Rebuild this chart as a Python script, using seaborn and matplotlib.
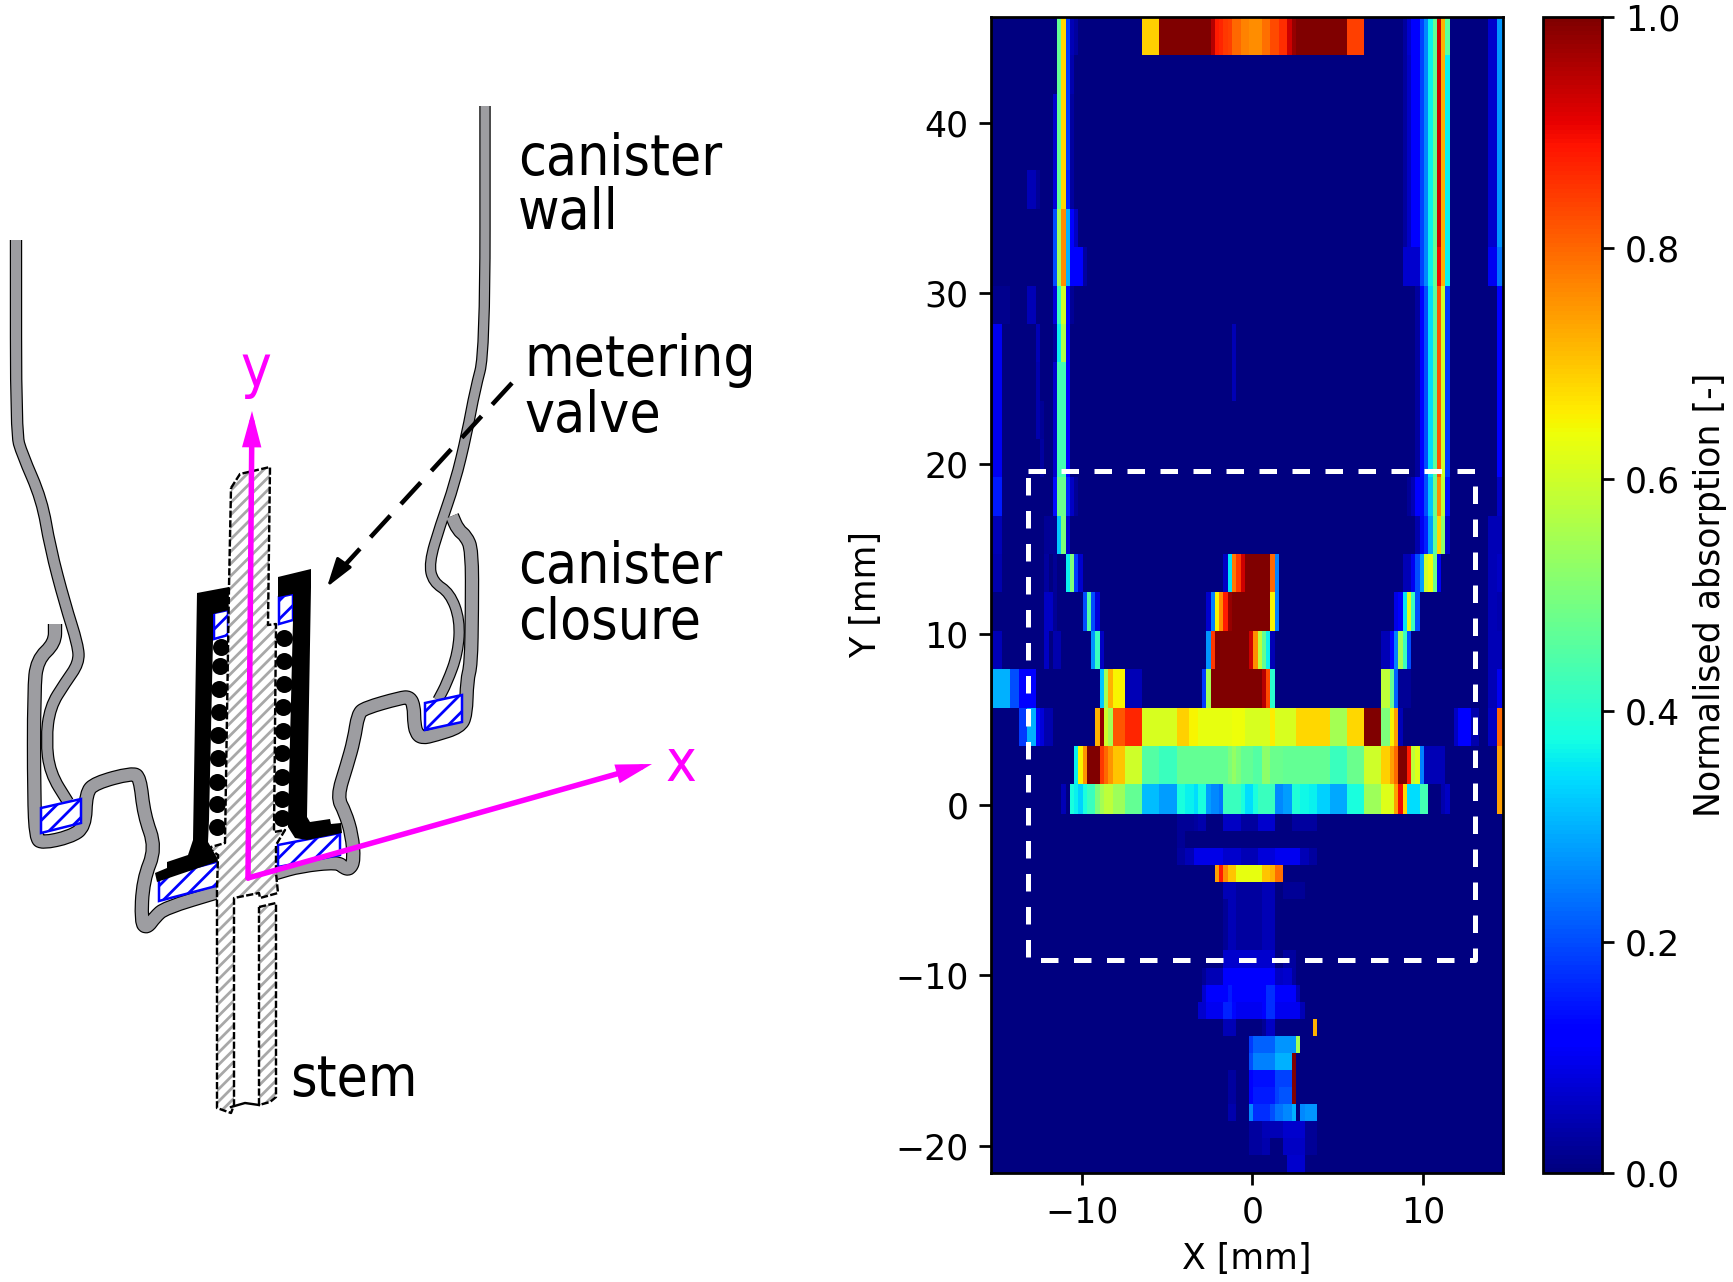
import numpy as np
import matplotlib
matplotlib.use('Agg')
import matplotlib.pyplot as plt
from matplotlib.path import Path
from matplotlib.patches import PathPatch
import seaborn as sns

W, H, DPI = 1733, 1282, 220

# ------------------------------------------------------------
# Heatmap data: cells are 0.25 mm, each band is (col_from, col_to, value)
# ------------------------------------------------------------
x_first_edge = -15.45
y_first_edge = 46.2
n_cols = 122
n_rows = 272
cbar_ticks = [0.0, 0.2, 0.4, 0.6, 0.8, 1.0]
x_ticks = [-10, 0, 10]
y_ticks = [40, 30, 20, 10, 0, -10, -20]
dash_box_x = [-13.15, 13.05, 13.05, -13.15, -13.15]
dash_box_y = [19.6, 19.6, -9.1, -9.1, 19.6]

band_edges = [46.2, 43.95, 41.7, 37.2, 34.95, 32.7, 30.45, 28.2, 25.95, 23.7, 21.45, 19.2,
              16.95, 14.7, 12.45, 10.2, 7.95, 5.7, 3.45, 1.2, -0.55, -1.55, -2.55, -3.55,
              -4.55, -5.55, -8.55, -9.55, -10.55, -11.55, -12.55, -13.55, -14.55, -15.55,
              -16.55, -17.55, -18.55, -19.55, -20.55, -21.8]

right_wall_a = [(97, 98, .03), (98, 99, .06), (99, 101, .11), (101, 102, .19), (102, 103, .26), (103, 104, .36),
                (104, 105, .47), (105, 106, .93), (106, 107, .72), (107, 108, .36),
                (117, 119, .07), (119, 121, .27)]
right_wall_b = [(100, 101, .03), (101, 102, .12), (102, 103, .2), (103, 104, .34), (104, 105, .46),
                (105, 106, .82), (106, 107, .6), (107, 108, .18), (119, 121, .11)]

band_01 = [(16, 17, .47), (17, 18, .68), (18, 19, .18), (19, 20, .05), (20, 21, .03),
           (36, 40, .69), (40, 52, 1.0), (52, 53, .95), (53, 54, .88), (54, 55, .87), (55, 56, .85),
           (56, 57, .84), (57, 59, .8), (59, 61, .77), (61, 64, .76), (64, 66, .79), (66, 68, .83),
           (68, 70, .86), (70, 71, .93), (71, 72, .98), (72, 84, 1.0), (84, 88, .84),
           (97, 98, .03), (98, 99, .07), (99, 101, .11), (101, 102, .19), (102, 103, .26),
           (103, 104, .36), (104, 105, .47), (105, 106, .93), (106, 107, .72), (107, 108, .46),
           (117, 119, .07), (119, 121, .27)]
band_02 = [(16, 17, .47), (17, 18, .68), (18, 19, .18), (19, 20, .04)] + right_wall_a
band_03 = [(15, 16, .07), (16, 17, .47), (17, 18, .68), (18, 19, .18), (19, 20, .03)] + right_wall_a
band_04 = [(9, 11, .05), (11, 12, .02), (15, 16, .08), (16, 17, .47), (17, 18, .68), (18, 19, .16),
           (19, 20, .03)] + right_wall_a
band_05 = [(15, 16, .2), (16, 17, .55), (17, 18, .76), (18, 19, .3), (19, 20, .12), (20, 21, .06)] + right_wall_a
band_06 = [(15, 16, .2), (16, 17, .55), (17, 18, .76), (18, 19, .3), (19, 22, .11), (22, 23, .03),
           (97, 101, .07), (101, 102, .19), (102, 103, .26), (103, 104, .36), (104, 105, .47),
           (105, 106, .9), (106, 107, .72), (107, 108, .36), (117, 119, .1), (119, 121, .24)]
band_07 = [(1, 5, .015), (9, 11, .05), (15, 16, .08), (16, 17, .42), (17, 18, .6), (18, 19, .13),
           (19, 20, .02)] + right_wall_b
band_08 = [(1, 3, .1), (11, 12, .05), (15, 16, .03), (16, 17, .36), (17, 18, .56), (18, 19, .11),
           (57, 58, .05)] + right_wall_b
band_09 = [(1, 3, .1), (11, 12, .04), (15, 16, .07), (16, 18, .43), (18, 19, .11), (57, 58, .05)] + right_wall_b
band_10 = [(1, 3, .1), (11, 12, .04), (12, 13, .02), (15, 16, .07), (16, 18, .43), (18, 19, .11)] + right_wall_b
band_11 = [(1, 3, .1), (12, 13, .03), (15, 16, .07), (16, 18, .43), (18, 19, .11)] + right_wall_b
band_12 = [(1, 3, .15), (15, 16, .14), (16, 18, .48), (18, 19, .16), (19, 20, .06), (20, 21, .02),
           (98, 99, .02), (99, 100, .05), (100, 101, .11), (101, 102, .12), (102, 103, .2),
           (103, 104, .32), (104, 105, .48), (105, 106, .76), (106, 107, .58), (107, 108, .14),
           (119, 121, .06)]
band_13 = [(1, 3, .05), (13, 16, .02), (16, 17, .32), (17, 18, .5), (18, 19, .07),
           (100, 101, .04), (101, 102, .1), (102, 103, .16), (103, 104, .28), (104, 105, .46),
           (105, 106, .68), (106, 107, .52), (107, 108, .06), (117, 121, .05)]
band_14 = [(1, 3, .04), (13, 14, .03), (15, 16, .02), (18, 19, .36), (19, 20, .5), (20, 21, .18),
           (21, 22, .07), (55, 56, .06), (56, 57, .35), (57, 58, .78), (58, 59, .85), (59, 60, .93),
           (60, 66, 1.0), (66, 67, .8), (67, 68, .25), (97, 99, .05), (99, 100, .1), (100, 101, .2),
           (101, 102, .28), (102, 103, .6), (103, 104, .64), (104, 105, .48), (105, 106, .1),
           (117, 119, .05), (119, 121, .06)]
band_15 = [(13, 15, .06), (15, 16, .02), (22, 23, .2), (23, 24, .45), (24, 25, .2), (25, 26, .08),
           (51, 52, .07), (52, 53, .25), (53, 54, .65), (54, 55, .76), (55, 56, .88), (56, 57, .98),
           (57, 66, 1.0), (66, 67, .65), (67, 68, .25), (95, 96, .09), (96, 97, .12), (97, 98, .35),
           (98, 99, .62), (99, 100, .42), (100, 101, .2), (117, 119, .05), (119, 121, .04)]
band_16 = [(1, 3, .05), (13, 14, .06), (15, 17, .04), (24, 25, .27), (25, 26, .42), (26, 27, .06),
           (51, 52, .27), (52, 53, .85), (53, 61, 1.0), (61, 62, .93), (62, 63, .76), (63, 64, .58),
           (64, 65, .47), (65, 66, .36), (66, 67, .05), (92, 94, .05), (94, 95, .11), (95, 96, .25),
           (96, 97, .55), (97, 98, .42), (98, 99, .2), (117, 121, .05)]
band_17 = [(1, 5, .3), (5, 7, .2), (7, 9, .12), (9, 11, .11), (26, 27, .32), (27, 28, .55), (28, 29, .72),
           (29, 32, .65), (32, 36, .05), (50, 51, .18), (51, 52, .55), (52, 64, 1.0), (64, 65, .95),
           (65, 66, .83), (66, 67, .4), (92, 94, .58), (94, 95, .47), (95, 96, .22), (96, 99, .02),
           (117, 119, .05), (119, 121, .1)]
band_18 = [(7, 9, .18), (9, 11, .3), (11, 12, .12), (12, 13, .08), (13, 15, .04), (25, 26, .72),
           (26, 27, .98), (27, 28, .6), (28, 29, .55), (29, 32, .82), (32, 36, .87), (36, 44, .61),
           (44, 47, .69), (47, 49, .65), (49, 57, .63), (57, 60, .64), (60, 66, .61), (66, 67, .66),
           (67, 72, .61), (72, 80, .68), (80, 84, .55), (84, 88, .68), (88, 92, 1.0), (92, 94, .5),
           (94, 95, .65), (95, 96, .74), (96, 97, .05), (109, 110, .06), (110, 113, .12),
           (113, 115, .04), (117, 119, .06), (119, 121, .8)]
band_19 = [(20, 21, .36), (21, 22, .65), (22, 23, .75), (23, 26, 1.0), (26, 27, .85), (27, 28, .8),
           (28, 29, .75), (29, 32, .7), (32, 36, .6), (36, 40, .45), (40, 44, .42), (44, 56, .47),
           (56, 57, .5), (57, 58, .53), (58, 59, .5), (59, 62, .47), (62, 64, .45), (64, 66, .52),
           (66, 69, .48), (69, 80, .47), (80, 84, .42), (84, 88, .48), (88, 92, .6), (92, 94, .69),
           (94, 95, .74), (95, 96, .8), (96, 98, 1.0), (98, 99, .88), (99, 100, .58), (100, 101, .62),
           (101, 102, .25), (102, 107, .05), (119, 121, .74)]
band_20 = [(17, 18, .05), (19, 20, .38), (20, 21, .36), (21, 22, .33), (22, 23, .38), (23, 25, .42),
           (25, 26, .5), (26, 27, .55), (27, 29, .58), (29, 32, .54), (32, 36, .47), (36, 40, .31),
           (40, 44, .28), (44, 46, .38), (46, 48, .36), (48, 49, .34), (49, 51, .38), (51, 52, .28),
           (52, 54, .26), (54, 55, .24), (55, 59, .42), (59, 60, .38), (60, 62, .34), (62, 63, .38),
           (63, 67, .42), (67, 69, .26), (69, 71, .28), (71, 73, .39), (73, 75, .37), (75, 77, .36),
           (77, 80, .33), (80, 84, .29), (84, 88, .38), (88, 92, .54), (92, 95, .62), (95, 96, .74),
           (96, 97, .9), (97, 98, .68), (98, 101, .34), (101, 103, .43), (106, 107, .04),
           (107, 108, .06), (119, 121, .74)]
band_21 = [(44, 48, .02), (48, 49, .03), (49, 51, .04), (55, 59, .06), (59, 63, .03), (63, 67, .07),
           (71, 77, .03)]
band_22 = [(44, 46, .02)]
band_23 = [(44, 46, .03), (46, 48, .05), (48, 55, .09), (55, 59, .07), (59, 63, .05), (63, 67, .08),
           (67, 73, .1), (73, 75, .05), (75, 77, .03)]
band_24 = [(53, 54, .74), (54, 55, .88), (55, 56, .76), (56, 58, .7), (58, 64, .63), (64, 66, .7),
           (66, 67, .72), (67, 69, .79)]
band_25 = [(55, 58, .05), (58, 64, .03), (64, 67, .05), (69, 74, .02)]
band_26 = [(55, 56, .02), (56, 58, .05), (58, 64, .03), (64, 67, .05)]
band_27 = [(55, 67, .07), (69, 72, .03)]
band_28 = [(50, 51, .02), (51, 55, .05), (55, 67, .11), (67, 69, .06), (69, 71, .07), (71, 72, .03)]
band_29 = [(50, 51, .07), (51, 56, .11), (56, 57, .15), (57, 65, .11), (65, 67, .17), (67, 72, .11),
           (72, 73, .05)]
band_30 = [(49, 51, .07), (51, 55, .1), (55, 57, .16), (57, 58, .13), (58, 64, .1), (64, 65, .12),
           (65, 67, .17), (67, 73, .1), (73, 74, .05)]
band_31 = [(55, 58, .05), (64, 65, .02), (65, 67, .06), (76, 77, .72)]
band_32 = [(61, 62, .18), (62, 67, .22), (67, 72, .27), (72, 73, .55)]
band_33 = [(61, 62, .2), (62, 67, .25), (67, 71, .3), (71, 72, 1.0)]
band_34 = [(56, 58, .03), (61, 62, .11), (62, 67, .14), (67, 71, .19), (71, 72, 1.0)]
band_35 = [(56, 58, .03), (61, 62, .11), (62, 67, .15), (67, 68, .19), (68, 71, .21), (71, 72, 1.0)]
band_36 = [(56, 58, .04), (61, 62, .26), (62, 66, .17), (66, 67, .2), (67, 69, .24), (69, 71, .26),
           (71, 72, .3), (73, 74, .26), (74, 77, .27)]
band_37 = [(61, 64, .03), (64, 69, .05), (69, 74, .07), (74, 77, .02)]
band_38 = [(61, 64, .03), (64, 66, .04), (69, 74, .06), (74, 77, .02)]
band_39 = [(70, 74, .07)]

bands = [band_01, band_02, band_03, band_04, band_05, band_06, band_07, band_08, band_09, band_10,
         band_11, band_12, band_13, band_14, band_15, band_16, band_17, band_18, band_19, band_20,
         band_21, band_22, band_23, band_24, band_25, band_26, band_27, band_28, band_29, band_30,
         band_31, band_32, band_33, band_34, band_35, band_36, band_37, band_38, band_39]

# ------------------------------------------------------------
# Schematic outlines, in figure pixels
# ------------------------------------------------------------
wall_right = [(485, 106), (485, 352), (475, 390), (467, 433), (455, 483), (440, 526), (429, 563),
              (433, 582), (450, 593), (460, 620), (458, 653), (447, 683), (438, 700)]
wall_left = [(16, 240), (16, 433), (22, 454), (42, 500), (50, 547), (65, 604), (78, 645), (79, 663),
             (65, 683), (50, 707), (46, 740), (50, 773), (68, 802)]
closure_right = [(452, 516), (458, 530), (466, 536), (472, 550), (472, 610), (471, 665), (467, 680),
                 (466, 715), (460, 727), (435, 735), (422, 738), (416, 733), (414, 720), (414, 707),
                 (410, 697), (400, 698), (365, 708), (358, 714), (354, 740), (347, 765), (337, 797),
                 (345, 812), (352, 835), (354, 860), (350, 869), (344, 868), (338, 862), (300, 866),
                 (276, 873)]
closure_left = [(55, 624), (55, 643), (37, 660), (34, 690), (34, 797), (36, 838), (42, 843), (70, 837),
                (85, 827), (86, 793), (95, 783), (132, 773), (140, 777), (144, 815), (156, 848),
                (143, 880), (141, 923), (147, 928), (155, 917), (165, 908), (218, 892)]
hatch_boxes = [[(41, 808), (81, 799), (81, 823), (41, 833)],
               [(425, 703), (462, 695), (462, 722), (425, 730)],
               [(159, 877), (220, 861), (220, 885), (159, 901)],
               [(278, 845), (340, 833), (340, 855), (278, 867)],
               [(214, 613), (228, 610), (228, 635), (214, 639)],
               [(279, 597), (293, 594), (293, 620), (279, 624)]]
housing_left = [(197, 593), (229, 587), (229, 610), (213, 614), (213, 640), (209, 820), (208, 842),
                (219, 861), (157, 882), (155, 873), (167, 868), (167, 862), (188, 855), (193, 840)]
housing_right = [(278, 577), (311, 569), (311, 587), (307, 817), (310, 822), (330, 819), (331, 824),
                 (341, 823), (342, 833), (307, 840), (295, 838), (288, 827), (288, 820), (293, 620),
                 (293, 594), (278, 597)]
spring_left = [(220.7, 647), (220, 666), (219, 689), (219, 712), (218, 735), (218, 758), (217, 782),
               (217, 804), (217, 827)]
spring_right = [(284, 638), (284, 661), (284, 684), (283, 707), (283, 731), (282, 753), (282, 777),
                (282, 799), (282, 818)]
stem_main = [(231, 488), (240, 474), (270, 467), (268, 625), (276, 624), (274, 832), (285, 830),
             (276, 845), (276, 873), (278, 893), (260, 898), (259, 893), (234, 898), (234, 1105),
             (231, 1113), (217, 1108), (217, 890), (218, 855), (211, 850), (211, 847), (225, 843),
             (229, 587)]
stem_tube = [(259, 907), (276, 903), (276, 1097), (270, 1102), (259, 1105)]
stem_bottom = [(231, 1107), (245, 1103), (259, 1105)]

labels = [('canister', 518, 175), ('wall', 518, 229), ('metering', 524, 376), ('valve', 524, 432),
          ('canister', 518, 583), ('closure', 518, 639), ('stem', 290, 1096)]
origin = (248, 878)
y_tip = (252, 411)
x_tip = (652, 764)
leader = [(512, 383), (334, 577)]
leader_tip = (327, 587)

# ------------------------------------------------------------
Z = np.zeros((n_rows, n_cols))
for i, band in enumerate(bands):
    r0 = int(round((y_first_edge - band_edges[i]) * 4))
    r1 = int(round((y_first_edge - band_edges[i + 1]) * 4))
    for c0, c1, v in band:
        Z[r0:r1, c0:c1] = v


def col_pos(x):
    return (np.asarray(x, dtype=float) - x_first_edge) * 4


def row_pos(y):
    return (y_first_edge - np.asarray(y, dtype=float)) * 4


def px(v):
    return v * 72 / DPI


def rounded(points):
    # quadratic corners through the midpoints, so the sheet metal reads as bent
    pts = np.array(points, dtype=float)
    verts = [pts[0], (pts[0] + pts[1]) / 2]
    codes = [Path.MOVETO, Path.LINETO]
    for k in range(1, len(pts) - 1):
        verts += [pts[k], (pts[k] + pts[k + 1]) / 2]
        codes += [Path.CURVE3, Path.CURVE3]
    verts.append(pts[-1])
    codes.append(Path.LINETO)
    return Path(verts, codes)


plt.rcParams['hatch.linewidth'] = 0.9
fig = plt.figure(figsize=(W / DPI, H / DPI), dpi=DPI)

# schematic on the left
sk = fig.add_axes([0, 0, 1, 1])
sk.set_xlim(0, W)
sk.set_ylim(H, 0)
sk.axis('off')

GREY = '#9d9da1'
sheet = [(wall_right, 9), (wall_left, 10), (closure_right, 12), (closure_left, 12)]
for path, wide in sheet:
    sk.add_patch(PathPatch(rounded(path), fill=False, edgecolor='black', lw=px(wide + 2.4),
                           capstyle='butt', joinstyle='round'))
for path, wide in sheet:
    sk.add_patch(PathPatch(rounded(path), fill=False, edgecolor=GREY, lw=px(wide),
                           capstyle='butt', joinstyle='round'))

for box in hatch_boxes:
    xs, ys = zip(*box)
    sk.fill(xs, ys, facecolor='white', edgecolor='#0000ff', hatch='////', lw=px(2.5))

for shape in [housing_left, housing_right]:
    xs, ys = zip(*shape)
    sk.fill(xs, ys, color='black', lw=0)

for column in [spring_left, spring_right]:
    xs, ys = zip(*column)
    sk.scatter(xs, ys, s=px(17) ** 2, color='black', lw=0, zorder=3)

for shape in [stem_main, stem_tube]:
    xs, ys = zip(*shape)
    sk.fill(xs, ys, facecolor='white', edgecolor='#a8a8a8', hatch='//////', lw=0, zorder=4)
    sk.plot(list(xs) + [xs[0]], list(ys) + [ys[0]], color='black', lw=px(2.4),
            ls=(0, (3, 1)), zorder=4)
xs, ys = zip(*stem_bottom)
sk.plot(xs, ys, color='black', lw=px(2.4), zorder=4)

for tip in [y_tip, x_tip]:
    sk.annotate('', xy=tip, xytext=origin, zorder=5,
                arrowprops=dict(arrowstyle='-|>,head_length=0.75,head_width=0.2', color='#ff00ff',
                                lw=px(5.5), shrinkA=0, shrinkB=0, joinstyle='miter'))
sk.text(256, 387, 'y', color='#ff00ff', fontsize=19, ha='center', va='baseline', zorder=5,
        family='DejaVu Sans', stretch='condensed')
sk.text(681, 781, 'x', color='#ff00ff', fontsize=19, ha='center', va='baseline', zorder=5,
        family='DejaVu Sans', stretch='condensed')

lx, ly = zip(*leader)
sk.plot(lx, ly, color='black', lw=px(4.5), ls=(0, (6.5, 3.5)), zorder=6)
sk.annotate('', xy=leader_tip, xytext=leader[1], zorder=6,
            arrowprops=dict(arrowstyle='-|>,head_length=0.8,head_width=0.25', color='black',
                            lw=px(3), shrinkA=0, shrinkB=0))
for s, x, y in labels:
    sk.text(x, y, s, fontsize=18.5, color='black', ha='left', va='baseline',
            family='DejaVu Sans', stretch='condensed')

# heatmap on the right
bottom = (H - 1173) / H
height = (1173 - 17) / H
ax = fig.add_axes([991.4 / W, bottom, (1503 - 991.4) / W, height])
cax = fig.add_axes([1543 / W, bottom, 59 / W, height])
sns.heatmap(Z, ax=ax, cbar_ax=cax, cmap='jet', vmin=0, vmax=1, xticklabels=False, yticklabels=False,
            cbar_kws={'label': 'Normalised absorption [-]', 'ticks': cbar_ticks})
ax.plot(col_pos(dash_box_x), row_pos(dash_box_y), color='white', lw=px(5),
        ls=(0, (3.5, 3.1)), clip_on=False)
ax.set_xlim(col_pos(-15.3), col_pos(14.68))
ax.set_ylim(row_pos(-21.6), row_pos(46.2))
ax.set_xticks(col_pos(x_ticks))
ax.set_xticklabels([str(v).replace('-', '\u2212') for v in x_ticks], rotation=0)
ax.set_yticks(row_pos(y_ticks))
ax.set_yticklabels([str(v).replace('-', '\u2212') for v in y_ticks], rotation=0)
ax.tick_params(length=4, width=0.9, labelsize=11.4)
ax.set_xlabel('X [mm]', fontsize=11.4, labelpad=4)
ax.set_ylabel('Y [mm]', fontsize=11.4, labelpad=4)
for side in ax.spines.values():
    side.set_visible(True)
    side.set_linewidth(0.9)
    side.set_color('black')

cb = ax.collections[0].colorbar
cb.outline.set_visible(True)
cb.outline.set_linewidth(0.9)
cb.outline.set_edgecolor('black')
cb.ax.tick_params(length=4, width=0.9, labelsize=11.4)
cb.ax.set_yticklabels(['0.0', '0.2', '0.4', '0.6', '0.8', '1.0'])
cb.set_label('Normalised absorption [-]', fontsize=11.4, labelpad=4)

fig.savefig('out.png', dpi=DPI)
